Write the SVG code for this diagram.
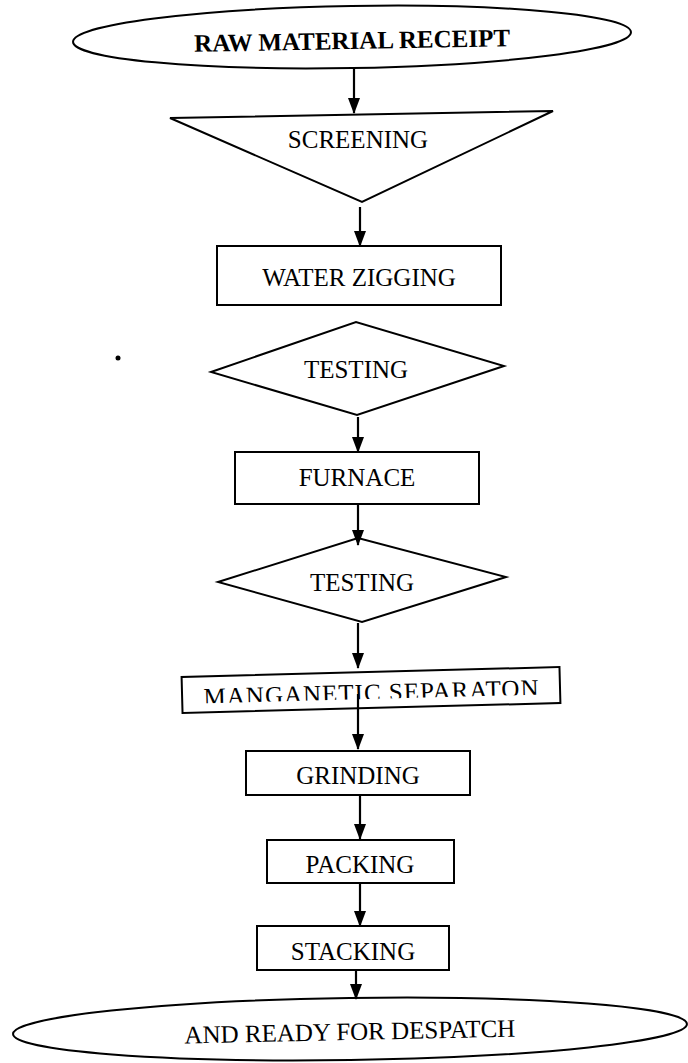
<svg xmlns="http://www.w3.org/2000/svg" width="688" height="1063" viewBox="0 0 688 1063">
<style>
.s{fill:#fff;stroke:#000;stroke-width:2}
.t{font-family:"Liberation Serif","Times New Roman",serif;font-size:25px;fill:#000;text-anchor:middle}
.b{font-weight:bold}
.c{stroke:#000;stroke-width:2.2;fill:none}
</style>
<defs>
<marker id="ah" markerUnits="userSpaceOnUse" markerWidth="16" markerHeight="12" refX="15" refY="6" orient="auto" viewBox="0 0 16 12">
<path d="M0,0 L16,6 L0,12 Z" fill="#000"/>
</marker>
<clipPath id="mclip">
<rect x="150" y="660" width="440" height="39"/>
</clipPath>
</defs>
<rect width="688" height="1063" fill="#fff"/>
<g id="raw">
<ellipse class="s" cx="352" cy="37" rx="279" ry="31" transform="rotate(-1 352 37)"/>
<text class="t b" x="352" y="49" transform="rotate(-1 352 37)">RAW MATERIAL RECEIPT</text>
</g>
<g id="screening">
<polygon class="s" points="170,118 553,111 362,202"/>
<text class="t" x="358" y="148">SCREENING</text>
</g>
<g id="water">
<rect class="s" x="217" y="246" width="284" height="59"/>
<text class="t" x="359" y="286">WATER ZIGGING</text>
</g>
<circle cx="118" cy="358" r="2.5" fill="#000"/>
<g id="testing1">
<polygon class="s" points="211,372 356,322 504,366 357,415"/>
<text class="t" x="356" y="378">TESTING</text>
</g>
<g id="furnace">
<rect class="s" x="235" y="452" width="244" height="52"/>
<text class="t" x="357" y="486">FURNACE</text>
</g>
<g id="testing2">
<polygon class="s" points="218,582 358,538 506,577 362,622"/>
<text class="t" x="362" y="591">TESTING</text>
</g>
<g id="manganetic" transform="rotate(-1.5 371 690)">
<rect class="s" x="182" y="672" width="378" height="36"/>
<text class="t" x="371" y="701" textLength="335" lengthAdjust="spacing" clip-path="url(#mclip)">MANGANETIC SEPARATON</text>
</g>
<g id="grinding">
<rect class="s" x="246" y="751" width="224" height="44"/>
<text class="t" x="358" y="784">GRINDING</text>
</g>
<g id="packing">
<rect class="s" x="267" y="840" width="187" height="43"/>
<text class="t" x="360" y="873">PACKING</text>
</g>
<g id="stacking">
<rect class="s" x="257" y="926" width="192" height="44"/>
<text class="t" x="353" y="960">STACKING</text>
</g>
<g id="despatch">
<ellipse class="s" cx="350" cy="1029" rx="337" ry="31" transform="rotate(-0.85 350 1029)"/>
<text class="t" x="350" y="1040" transform="rotate(-1.2 350 1040)">AND READY FOR DESPATCH</text>
</g>
<g id="connectors">
<line class="c" x1="354" y1="69" x2="354" y2="113" marker-end="url(#ah)"/>
<line class="c" x1="360" y1="207" x2="360" y2="246" marker-end="url(#ah)"/>
<line class="c" x1="358" y1="417" x2="358" y2="452" marker-end="url(#ah)"/>
<line class="c" x1="358" y1="505" x2="358" y2="545" marker-end="url(#ah)"/>
<line class="c" x1="358" y1="623" x2="358" y2="668" marker-end="url(#ah)"/>
<line class="c" x1="358" y1="694" x2="358" y2="749" marker-end="url(#ah)"/>
<line class="c" x1="360" y1="796" x2="360" y2="839" marker-end="url(#ah)"/>
<line class="c" x1="360" y1="884" x2="360" y2="926" marker-end="url(#ah)"/>
<line class="c" x1="356" y1="971" x2="356" y2="999" marker-end="url(#ah)"/>
</g>
</svg>
